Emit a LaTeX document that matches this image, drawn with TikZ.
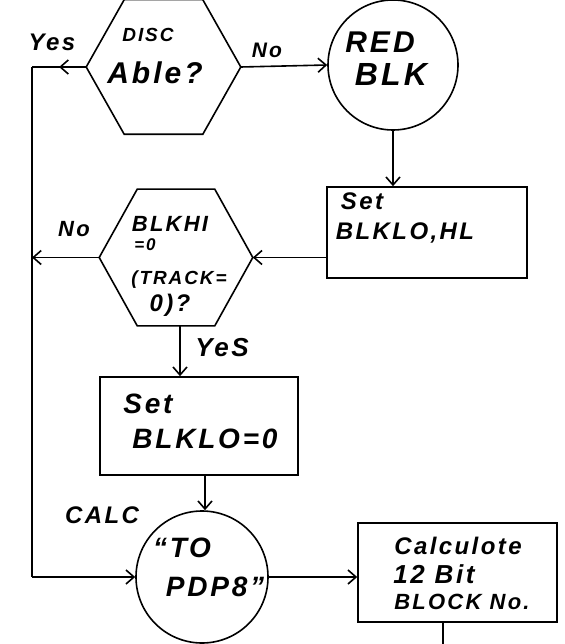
\documentclass[tikz,border=0pt]{standalone}
\usepackage{fontspec}
\setmainfont{Liberation Sans}
\newfontfamily\hand[LetterSpace=10]{Liberation Sans}
\usetikzlibrary{arrows.meta,calc,decorations.markings}
\newcommand\hsz[1]{\fontsize{#1}{#1}\selectfont}
\begin{document}
\begin{tikzpicture}[x=1pt,y=-1pt,
  line width=1.6pt,
  hexbox/.style={minimum width=153pt, minimum height=133pt, inner sep=0pt},
  boxn/.style={draw, line width=1.6pt, inner sep=0pt},
  circ/.style={circle, draw, line width=1.6pt, minimum size=130pt, inner sep=0pt},
  txt/.style={inner sep=0pt, font=\hand\bfseries\itshape\hsz{#1}},
  tip/.style={-{Straight Barb[length=8pt,width=14pt,line width=1.6pt]}},
  midtip/.style={postaction={decorate},decoration={markings,
     mark=at position #1 with {\arrow{Straight Barb[length=8pt,width=14pt,line width=1.6pt]}}}}
]
\useasboundingbox (0,0) rectangle (564,644);

% shapes
\node[hexbox] (hex1) at (163.5,67) {};
\draw ($(hex1.west)$) -- ($(hex1.north west)+(38,0)$) -- ($(hex1.north east)+(-38,0)$)
  -- (hex1.east) -- ($(hex1.south east)+(-38,0)$) -- ($(hex1.south west)+(38,0)$) -- cycle;
\node[hexbox, minimum width=152pt, minimum height=135pt] (hex2) at (176,257.5) {};
\draw (hex2.west) -- ($(hex2.north west)+(38,0)$) -- ($(hex2.north east)+(-38,0)$)
  -- (hex2.east) -- ($(hex2.south east)+(-38,0)$) -- ($(hex2.south west)+(38,0)$) -- cycle;
\node[circ] (circ1) at (393,65) {};
\node[circ, minimum size=132pt] (circ2) at (202,577) {};
\node[boxn, minimum width=200pt, minimum height=91pt] (box1) at (427,232.5) {};
\node[boxn, minimum width=198pt, minimum height=98pt] (box2) at (199,426) {};
\node[boxn, minimum width=199pt, minimum height=99pt] (box3) at (457.5,572.5) {};

% texts inside shapes
\node[txt=19] (t1a) at (148,35) {DISC};
\node[txt=30] (t1b) at (155,73) {Able?};
\node[txt=30] (t2a) at (380,42) {RED};
\node[txt=32] (t2b) at (391,74) {BLK};
\node[txt=24] (t3a) at (362,201) {Set};
\node[txt=24] (t3b) at (405,233) {BLKLO,HL};
\node[txt=22] (t4a) at (170,224) {BLKHI};
\node[txt=17] (t4b) at (145,245) {=0};
\node[txt=19] (t4c) at (179,280) {(TRACK=};
\node[txt=24] (t4d) at (170,305) {0)?};
\node[txt=28] (t5a) at (148,404) {Set};
\node[txt=28] (t5b) at (205,439) {BLKLO=0};
\node[txt=28] (t6a) at (182,548) {“TO};
\node[txt=28] (t6b) at (215,587) {PDP8”};
\node[txt=24] (t7a) at (458,546) {Calculote};
\node[txt=26] (t7b) at (434,574) {12 Bit};
\node[txt=22] (t7c) at (462,602) {BLOCK No.};

% labels
\node[txt=24] (lyes1) at (52,42) {Yes};
\node[txt=21] (lno1) at (267,50) {No};
\node[txt=22] (lno2) at (74,229) {No};
\node[txt=26] (lyes2) at (222,348) {YeS};
\node[txt=24] (lcalc) at (102,515) {CALC};

% coordinates
\coordinate (L1) at (32,67);
\coordinate (L3) at (L1 |- circ2.west);
\coordinate (Lend) at (443,644);
\coordinate (h2s) at ($(hex2.south)+(4,0)$);
\coordinate (b2s) at ($(box2.south)+(6,0)$);
\coordinate (b3s) at ($(box3.south)+(-14.5,0)$);

% connectors
\draw[midtip=0.5] (hex1.west) -- (L1);
\draw[line width=2.6pt] (L1) -- (L3);
\draw[tip] (L3) -- (circ2.west);
\draw[tip] (hex1.east) -- (circ1.west);
\draw[tip] (circ1.south) -- (box1.north -| circ1.south);
\draw[tip] (box1.west |- hex2.east) -- (hex2.east);
\draw[tip] (hex2.west) -- (L1 |- hex2.west);
\draw[tip] (h2s) -- (h2s |- box2.north);
\draw[tip] (b2s) -- (b2s |- circ2.north);
\draw[tip] (circ2.east) -- (circ2.east -| box3.west);
\draw (b3s) -- (Lend);
\end{tikzpicture}
\end{document}
